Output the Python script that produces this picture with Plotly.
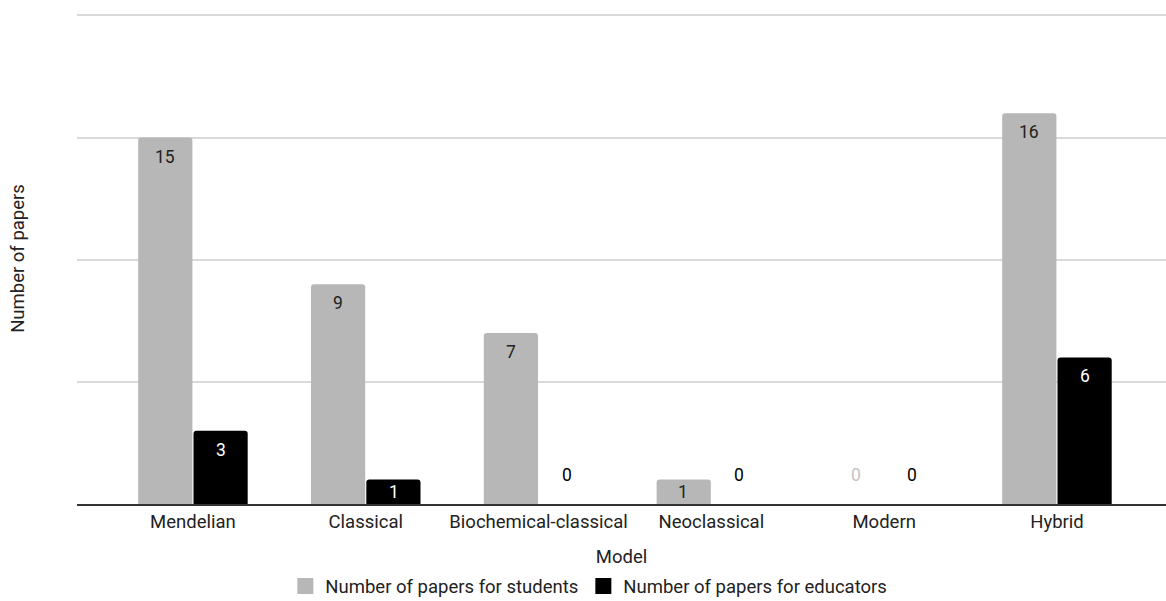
import plotly.graph_objects as go

models = ["Mendelian", "Classical", "Biochemical-classical", "Neoclassical", "Modern", "Hybrid"]
students = [15, 9, 7, 1, 0, 16]
educators = [3, 1, 0, 0, 0, 6]
series_names = ["Number of papers for students", "Number of papers for educators"]

GRAY = "#b7b7b7"
BLACK = "#000000"
FONT = "Roboto"
FS = 18.5

fig = go.Figure()
for name, vals, col in [(series_names[0], students, GRAY), (series_names[1], educators, BLACK)]:
    fig.add_trace(go.Bar(name=name, x=models, y=vals, showlegend=False,
                         marker=dict(color=col, line=dict(width=0))))
# legend entries with large square swatches
for name, col in [(series_names[0], GRAY), (series_names[1], BLACK)]:
    fig.add_trace(go.Scatter(name=name, x=[None], y=[None], mode="markers",
                             marker=dict(symbol="square", size=22, color=col)))

# value labels: inside the bar top, or just above the baseline for empty bars
annotations = []
for vals, shift, inside_col, zero_col in [(students, -28, "#222222", "#c4c4c4"),
                                          (educators, 28, "#ffffff", "#000000")]:
    for i, v in enumerate(vals):
        if v > 0:
            annotations.append(dict(x=i, y=v, text=str(v), xref="x", yref="y",
                                    showarrow=False, xshift=shift, yanchor="top",
                                    yshift=-7 if v > 1.5 else 0,
                                    font=dict(family=FONT, size=17.5, color=inside_col)))
        else:
            annotations.append(dict(x=i, y=v, text=str(v), xref="x", yref="y",
                                    showarrow=False, xshift=shift, yanchor="bottom", yshift=17,
                                    font=dict(family=FONT, size=17.5, color=zero_col)))

fig.update_layout(
    width=1166, height=601,
    margin=dict(l=77, r=0, t=13, b=97, autoexpand=False),
    paper_bgcolor="white", plot_bgcolor="white",
    barmode="group", bargap=0.36, bargroupgap=0.02, barcornerradius=3,
    font=dict(family=FONT, size=FS, color="#222222"),
    xaxis=dict(range=[-0.671, 5.631], showgrid=False, showline=True, automargin=False,
               linecolor="#333333", linewidth=1.5, ticks="", tickfont=dict(size=FS),
               title=dict(text="Model", font=dict(size=FS), standoff=24)),
    yaxis=dict(range=[0, 20.1], dtick=5, showticklabels=False, gridcolor="#d9d9d9",
               gridwidth=1.5, zeroline=False, showline=False, automargin=False,
               title=dict(text="Number of papers", font=dict(size=FS), standoff=46)),
    legend=dict(orientation="h", x=0.47, xanchor="center", yref="container",
                y=0.024, yanchor="middle",
                font=dict(size=FS), itemwidth=30, traceorder="normal", itemsizing="trace"),
    annotations=annotations,
    showlegend=True,
)

fig.write_html("out.html")
